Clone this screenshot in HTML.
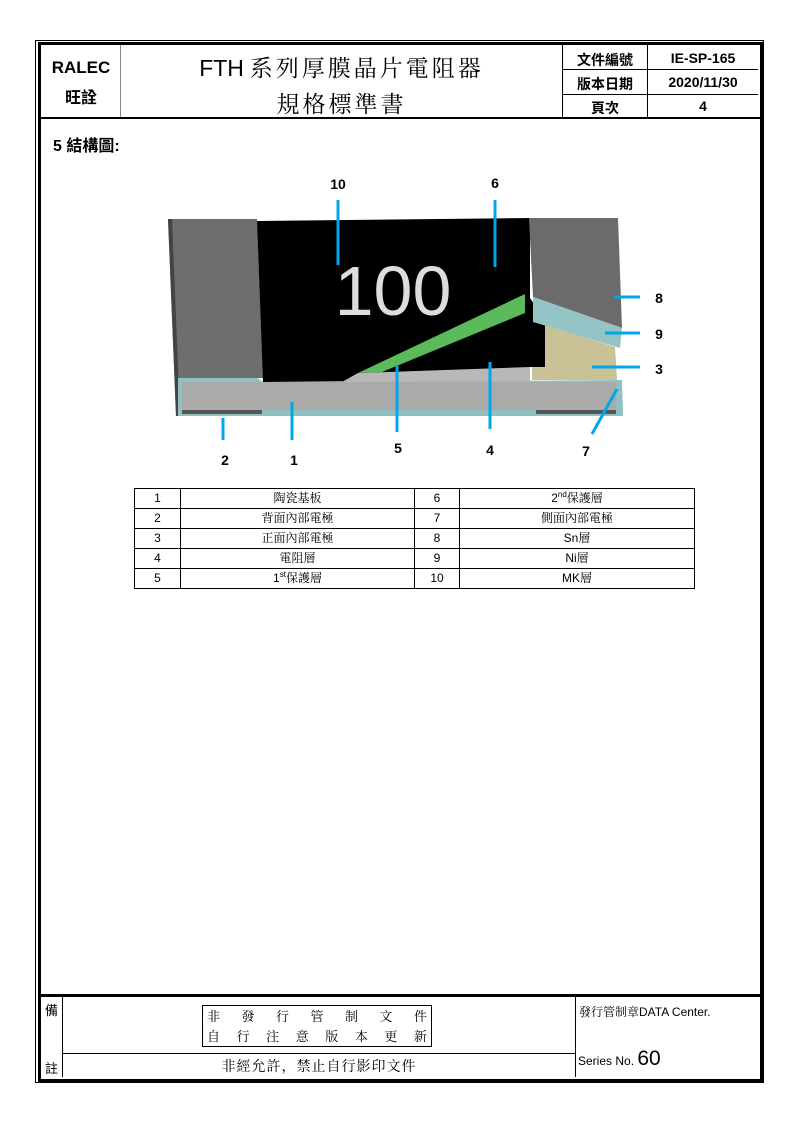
<!DOCTYPE html>
<html><head><meta charset="utf-8"><style>
body{margin:0;background:#fff;width:794px;height:1123px;position:relative;overflow:hidden;font-family:"Liberation Sans","Noto Sans CJK TC",sans-serif;}
.a{position:absolute;}
.l{position:absolute;background:#000;}
.g{position:absolute;background:#888;}
.t{position:absolute;text-align:center;white-space:nowrap;}
.tb{border-collapse:collapse;position:absolute;left:134px;top:488px;font-size:12px;table-layout:fixed;}
.tb td{border:1px solid #000;height:19px;padding:0;text-align:center;line-height:19px;overflow:hidden;}
.tb sup{font-size:8px;line-height:0;vertical-align:5px;}
.cj{font-family:"Liberation Serif","Noto Serif CJK SC",serif;}
</style></head><body>
<div class="a" style="left:35px;top:40px;width:727px;height:1041px;border:1px solid #000"></div>
<div class="a" style="left:38px;top:42px;width:719px;height:1034px;border:3px solid #000"></div>
<!-- header -->
<div class="l" style="left:41px;top:117px;width:719px;height:2px"></div>
<div class="g" style="left:120px;top:45px;width:1px;height:72px"></div>
<div class="l" style="left:562px;top:45px;width:1px;height:72px"></div>
<div class="l" style="left:647px;top:45px;width:1px;height:72px"></div>
<div class="l" style="left:562px;top:69px;width:196px;height:1px"></div>
<div class="l" style="left:562px;top:94px;width:196px;height:1px"></div>
<div class="t" style="left:42px;top:58px;width:78px;font-weight:bold;font-size:17px">RALEC</div>
<div class="t" style="left:42px;top:84px;width:78px;font-weight:bold;font-size:16px">旺詮</div>
<div class="t" style="left:121px;top:50px;width:441px;font-size:23px;font-family:'Noto Serif CJK SC',serif;"><span style="font-family:'Liberation Sans',sans-serif">FTH</span> <span style="letter-spacing:3px">系列厚膜晶片電阻器</span></div>
<div class="t" style="left:121px;top:86px;width:441px;font-size:23px;font-family:'Noto Serif CJK SC',serif;letter-spacing:3px">規格標準書</div>
<div class="t" style="left:563px;top:50px;width:84px;font-weight:bold;font-size:14px">文件編號</div>
<div class="t" style="left:563px;top:74px;width:84px;font-weight:bold;font-size:14px">版本日期</div>
<div class="t" style="left:563px;top:98px;width:84px;font-weight:bold;font-size:14px">頁次</div>
<div class="t" style="left:648px;top:50px;width:110px;font-weight:bold;font-size:14px">IE-SP-165</div>
<div class="t" style="left:648px;top:74px;width:110px;font-weight:bold;font-size:14px">2020/11/30</div>
<div class="t" style="left:648px;top:98px;width:110px;font-weight:bold;font-size:14px">4</div>
<div class="a" style="left:53px;top:132px;font-weight:bold;font-size:16px">5 結構圖:</div>
<!-- diagram -->
<svg class="a" style="left:0;top:0" width="794" height="480">
<polygon points="168,219 257,219 263,378 180,380 180,416 176,416" fill="#6e6e6e"/>
<polygon points="168,219 172,219 180,416 176,416" fill="#444"/>
<polygon points="257,221 530,218 530,298 545,320 545,367 530,367 530,380 263,382" fill="#000"/>
<polygon points="529,218 618,218 622,328 533,297" fill="#6b6b6b"/>
<polygon points="533,297 622,328 620,348 533,322" fill="#94c4c6"/>
<polygon points="545,325 615,347 617,380 532,380 532,367 545,367" fill="#c8c296"/>
<polygon points="342,382 358,373 530,367 530,382" fill="#b8b8b8"/>
<polygon points="358,373 525,294 525,313 382,372" fill="#5bbb5b"/>
<polygon points="178,378 257,378 263,382 342,382 622,380 623,416 178,416" fill="#8fc0c2"/>
<rect x="182" y="382" width="434" height="28" fill="#aaaaaa"/>
<rect x="182" y="410" width="80" height="4" fill="#555"/>
<rect x="536" y="410" width="80" height="4" fill="#555"/>
<text x="393" y="315" font-family="Liberation Sans" font-size="70" fill="#ddd" text-anchor="middle">100</text>
<g stroke="#00a8e8" stroke-width="3">
<line x1="338" y1="200" x2="338" y2="265"/>
<line x1="495" y1="200" x2="495" y2="267"/>
<line x1="614" y1="297" x2="640" y2="297"/>
<line x1="605" y1="333" x2="640" y2="333"/>
<line x1="592" y1="367" x2="640" y2="367"/>
<line x1="223" y1="418" x2="223" y2="440"/>
<line x1="292" y1="402" x2="292" y2="440"/>
<line x1="397" y1="365" x2="397" y2="432"/>
<line x1="490" y1="362" x2="490" y2="429"/>
<line x1="617" y1="389" x2="592" y2="434"/>
</g>
<g font-family="Liberation Sans" font-weight="bold" font-size="14" text-anchor="middle">
<text x="338" y="189">10</text><text x="495" y="188">6</text>
<text x="659" y="303">8</text><text x="659" y="339">9</text><text x="659" y="374">3</text>
<text x="225" y="465">2</text><text x="294" y="465">1</text><text x="398" y="453">5</text>
<text x="490" y="455">4</text><text x="586" y="456">7</text>
</g>
</svg>
<table class="tb">
<tr><td style="width:45px">1</td><td style="width:233px" class="cj">陶瓷基板</td><td style="width:44px">6</td><td style="width:234px">2<sup>nd</sup><span class="cj">保護層</span></td></tr>
<tr><td>2</td><td class="cj">背面內部電極</td><td>7</td><td class="cj">側面內部電極</td></tr>
<tr><td>3</td><td class="cj">正面內部電極</td><td>8</td><td>Sn<span class="cj">層</span></td></tr>
<tr><td>4</td><td class="cj">電阻層</td><td>9</td><td>Ni<span class="cj">層</span></td></tr>
<tr><td>5</td><td>1<sup>st</sup><span class="cj">保護層</span></td><td>10</td><td>MK<span class="cj">層</span></td></tr>
</table>
<!-- footer -->
<div class="l" style="left:41px;top:994px;width:719px;height:3px"></div>
<div class="l" style="left:62px;top:997px;width:1px;height:80px"></div>
<div class="l" style="left:575px;top:997px;width:1px;height:80px"></div>
<div class="l" style="left:62px;top:1053px;width:513px;height:1px"></div>
<div class="a" style="left:45px;top:1000px;font-size:13px" >備</div>
<div class="a" style="left:45px;top:1058px;font-size:13px">註</div>
<div class="a" style="left:202px;top:1005px;width:230px;height:42px;border:1px solid #000;box-sizing:border-box;font-family:'Noto Serif CJK SC',serif;font-size:13px;line-height:20px">
<div style="display:flex;justify-content:space-between;padding:0 4px"><span>非</span><span>發</span><span>行</span><span>管</span><span>制</span><span>文</span><span>件</span></div>
<div style="display:flex;justify-content:space-between;padding:0 4px"><span>自</span><span>行</span><span>注</span><span>意</span><span>版</span><span>本</span><span>更</span><span>新</span></div>
</div>
<div class="t cj" style="left:63px;top:1056px;width:512px;font-size:14px;letter-spacing:1px">非經允許，禁止自行影印文件</div>
<div class="a" style="left:579px;top:1003px;font-size:12px"><span class="cj">發行管制章</span>DATA Center.</div>
<div class="a" style="left:578px;top:1047px;font-size:12px">Series No. <span style="font-size:21px">60</span></div>
</body></html>
